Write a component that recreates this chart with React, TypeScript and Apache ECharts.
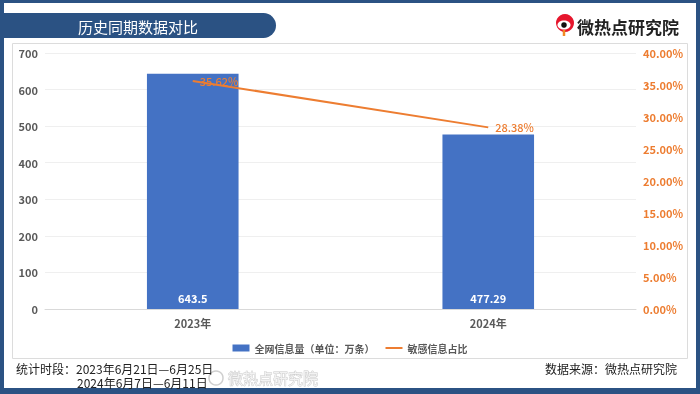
import React, { useEffect, useRef } from "react";
import * as echarts from "echarts";

const categories = ["2023年", "2024年"];
const totalVolume = [643.5, 477.29];
const sensitiveRatio = [0.3562, 0.2838];
const leftTicks = { min: 0, max: 700, interval: 100 };
const rightTicks = { min: 0, max: 0.4, interval: 0.05 };
const seriesNames = ["全网信息量（单位：万条）", "敏感信息占比"];
const titleText = "历史同期数据对比";
const brandText = "微热点研究院";
const periodLines = ["统计时段：2023年6月21日—6月25日", "2024年6月7日—6月11日"];
const sourceText = "数据来源：微热点研究院";

const FONT = "'Noto Sans CJK SC', 'Noto Sans', sans-serif";
const NAVY = "#2B5283";
const BLUE = "#4472C4";
const ORANGE = "#ED7D31";
const GRAY = "#595959";

const pct = (v: number) => (v * 100).toFixed(2) + "%";

export default function App() {
  const ref = useRef<HTMLDivElement>(null);
  useEffect(() => {
    if (!ref.current) return;
    const chart = echarts.init(ref.current, undefined, { renderer: "svg" });
    chart.setOption({
      animation: false,
      textStyle: { fontFamily: FONT },
      grid: { left: 45, right: 64, top: 53, bottom: 85 },
      legend: {
        top: 338,
        left: "center",
        itemWidth: 17,
        itemHeight: 7,
        itemGap: 10,
        textStyle: { color: GRAY, fontSize: 10, fontWeight: "bold", fontFamily: FONT },
        data: [
          { name: seriesNames[0], icon: "rect" },
          { name: seriesNames[1], itemStyle: { opacity: 0 } },
        ],
      },
      xAxis: {
        type: "category",
        data: categories,
        axisLine: { lineStyle: { color: "#D9D9D9" } },
        axisTick: { show: false },
        axisLabel: { color: GRAY, fontSize: 11, fontWeight: "bold", margin: 8, fontFamily: FONT },
      },
      yAxis: [
        {
          type: "value",
          min: leftTicks.min,
          max: leftTicks.max,
          interval: leftTicks.interval,
          axisLine: { show: false },
          axisTick: { show: false },
          splitLine: { lineStyle: { color: "#EFEFEF" } },
          axisLabel: { color: GRAY, fontSize: 11, fontWeight: "bold", margin: 7, fontFamily: FONT },
        },
        {
          type: "value",
          min: rightTicks.min,
          max: rightTicks.max,
          interval: rightTicks.interval,
          axisLine: { show: false },
          axisTick: { show: false },
          splitLine: { show: false },
          axisLabel: {
            color: ORANGE,
            fontSize: 11,
            fontWeight: "bold",
            margin: 7,
            fontFamily: FONT,
            formatter: (v: number) => pct(v),
          },
        },
      ],
      series: [
        {
          name: seriesNames[0],
          type: "bar",
          data: totalVolume,
          barWidth: "31%",
          itemStyle: { color: BLUE },
          label: {
            show: true,
            position: "insideBottom",
            distance: 6,
            color: "#FFFFFF",
            fontSize: 11,
            fontWeight: "bold",
            fontFamily: FONT,
          },
        },
        {
          name: seriesNames[1],
          type: "line",
          yAxisIndex: 1,
          data: sensitiveRatio,
          symbol: "none",
          lineStyle: { color: ORANGE, width: 2 },
          itemStyle: { color: ORANGE },
        },
        {
          name: "ratioLabels",
          type: "scatter",
          yAxisIndex: 1,
          data: sensitiveRatio,
          symbolSize: 0,
          z: 5,
          itemStyle: { color: ORANGE, opacity: 1 },
          label: {
            show: true,
            position: "right",
            distance: 7,
            color: ORANGE,
            fontSize: 11,
            fontWeight: 500,
            fontFamily: FONT,
            formatter: (p: any) => pct(p.value),
          },
        },
      ],
      graphic: [
        { type: "rect", z: -20, shape: { x: 0, y: 0, width: 700, height: 394 }, style: { fill: NAVY } },
        { type: "rect", z: -19, shape: { x: 4, y: 3, width: 692, height: 385 }, style: { fill: "#FFFFFF" } },
        {
          type: "rect",
          z: -18,
          shape: { x: 12.5, y: 43.5, width: 675, height: 315 },
          style: { fill: "#FFFFFF", stroke: "#DCDCDC", lineWidth: 1 },
        },
        {
          type: "rect",
          z: -17,
          shape: { x: 0, y: 13, width: 276, height: 25, r: [0, 12.5, 12.5, 0] },
          style: { fill: NAVY },
        },
        {
          type: "text",
          z: 10,
          x: 138,
          y: 26,
          style: {
            text: titleText,
            fill: "#FFFFFF",
            fontSize: 15,
            fontFamily: FONT,
            align: "center",
            verticalAlign: "middle",
          },
        },
        { type: "circle", z: 10, shape: { cx: 565, cy: 23, r: 9 }, style: { fill: "#E6162D" } },
        { type: "ellipse", z: 11, shape: { cx: 564, cy: 25, rx: 6.5, ry: 4.5 }, style: { fill: "#FFFFFF" } },
        { type: "circle", z: 12, shape: { cx: 564, cy: 25, r: 2.8 }, style: { fill: "#111111" } },
        { type: "line", z: 10, shape: { x1: 564, y1: 30, x2: 564, y2: 36 }, style: { stroke: "#F08A24", lineWidth: 2.5 } },
        {
          type: "text",
          z: 10,
          x: 577,
          y: 26,
          style: {
            text: brandText,
            fill: "#222222",
            fontSize: 17,
            fontWeight: "bold",
            fontFamily: FONT,
            verticalAlign: "middle",
          },
        },
        {
          type: "text",
          z: 10,
          x: 16,
          y: 361,
          style: {
            text: periodLines[0] + "\n{pad| }" + periodLines[1],
            fill: "#222222",
            fontSize: 12,
            lineHeight: 14.5,
            fontFamily: FONT,
            verticalAlign: "top",
            rich: { pad: { width: 61, fontSize: 12, lineHeight: 14.5 } },
          },
        },
        {
          type: "text",
          z: 10,
          x: 677,
          y: 368,
          style: {
            text: sourceText,
            fill: "#222222",
            fontSize: 12,
            fontFamily: FONT,
            align: "right",
            verticalAlign: "middle",
          },
        },
        {
          type: "circle",
          z: 9,
          shape: { cx: 216, cy: 378, r: 7 },
          style: { fill: "none", stroke: "#CFCFCF", lineWidth: 1.5 },
        },
        {
          type: "text",
          z: 9,
          x: 228,
          y: 377,
          style: {
            text: brandText,
            fill: "#F2F2F2",
            stroke: "#C8C8C8",
            lineWidth: 0.8,
            fontSize: 15,
            fontFamily: FONT,
            verticalAlign: "middle",
          },
        },
      ],
    });
    return () => chart.dispose();
  }, []);
  return <div ref={ref} style={{ position: "fixed", left: 0, top: 0, width: 700, height: 394 }} />;
}
